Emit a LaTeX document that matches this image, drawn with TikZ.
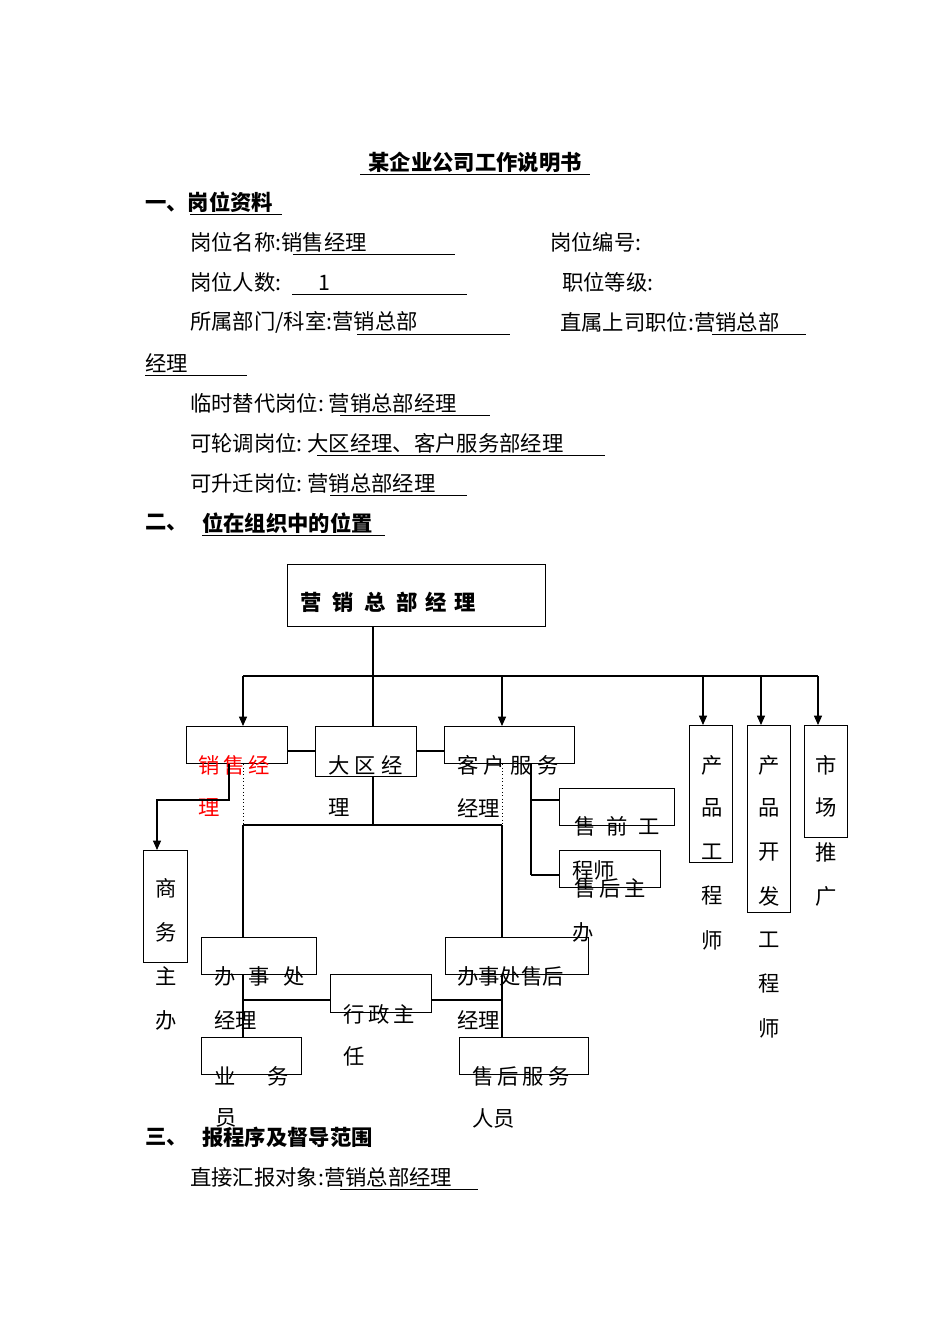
\documentclass[tikz,border=0pt]{standalone}
\usepackage{fontspec}
\setmainfont{Noto Sans CJK SC}
\usetikzlibrary{arrows.meta}
\begin{document}
\begin{tikzpicture}[x=0.75pt,y=-0.75pt,
 txt/.style={anchor=west,inner sep=0pt,font=\fontsize{16}{18}\selectfont},
 btxt/.style={txt,font=\fontsize{16}{18}\selectfont\bfseries},
 bx/.style={draw,line width=0.8pt,inner sep=0pt,anchor=north west},
 ln/.style={line width=0.8pt},
 ar/.style={ln,-{Triangle[length=7pt,width=6pt]}},
 ul/.style={line width=0.6pt}]
\useasboundingbox (0,0) rectangle (950,1344);
% header texts
\node[btxt,anchor=center] (title) at (475,162) {某企业公司工作说明书};
\draw[ul] (360,174)--(590,174);
\node[btxt] (h1) at (145,202) {一、岗位资料};
\draw[ul] (190,214)--(282,214);
\node[txt] (a1) at (190,242) {岗位名称:销售经理};
\draw[ul] (293,254)--(455,254);
\node[txt] (a2) at (550,242) {岗位编号:};
\node[txt] (b1) at (190,282) {岗位人数:\hspace{28pt}1};
\draw[ul] (292,294)--(467,294);
\node[txt] (b2) at (562,282) {职位等级:};
\node[txt] (c1) at (190,322) {所属部门/科室:营销总部};
\draw[ul] (357,334)--(510,334);
\node[txt] (c2) at (560,322) {直属上司职位:营销总部};
\draw[ul] (712,334)--(806,334);
\node[txt] (c3) at (145,363) {经理};
\draw[ul] (145,375)--(247,375);
\node[txt] (d1) at (190,403) {临时替代岗位:\ 营销总部经理};
\draw[ul] (340,415)--(490,415);
\node[txt] (e1) at (190,443) {可轮调岗位:\ 大区经理、客户服务部经理};
\draw[ul] (317,455)--(605,455);
\node[txt] (f1) at (190,483) {可升迁岗位:\ 营销总部经理};
\draw[ul] (330,495)--(467,495);
\node[btxt] (h2a) at (145,523) {二、};
\node[btxt] (h2b) at (202,523) {位在组织中的位置};
\draw[ul] (202,535)--(385,535);
\node[btxt] (h3a) at (145,1137) {三、};
\node[btxt] (h3b) at (202,1137) {报程序及督导范围};
\node[txt] (g1) at (190,1177) {直接汇报对象:营销总部经理};
\draw[ul] (340,1189)--(478,1189);
% boxes
\node[bx,minimum width={258*0.75pt},minimum height={62*0.75pt}] (top) at (287,564) {};
\node[btxt] (topt) at (300,602) {营\hspace{8pt}销\hspace{8pt}总\hspace{8pt}部\hspace{6pt}经\hspace{6pt}理};
\node[bx,minimum width={101*0.75pt},minimum height={37*0.75pt}] (xs) at (186,726) {};
\node[bx,minimum width={101*0.75pt},minimum height={50*0.75pt}] (dq) at (315,726) {};
\node[bx,minimum width={130*0.75pt},minimum height={37*0.75pt}] (kh) at (444,726) {};
\node[bx,minimum width={115*0.75pt},minimum height={37*0.75pt}] (sq) at (559,788) {};
\node[bx,minimum width={101*0.75pt},minimum height={37*0.75pt}] (sh) at (559,850) {};
\node[bx,minimum width={44*0.75pt},minimum height={112*0.75pt}] (sw) at (143,850) {};
\node[bx,minimum width={115*0.75pt},minimum height={37*0.75pt}] (bl) at (201,937) {};
\node[bx,minimum width={143*0.75pt},minimum height={37*0.75pt}] (br) at (445,937) {};
\node[bx,minimum width={101*0.75pt},minimum height={38*0.75pt}] (xz) at (330,974) {};
\node[bx,minimum width={100*0.75pt},minimum height={37*0.75pt}] (yw) at (201,1037) {};
\node[bx,minimum width={129*0.75pt},minimum height={37*0.75pt}] (shf) at (459,1037) {};
\node[bx,minimum width={43*0.75pt},minimum height={137*0.75pt}] (cp) at (689,725) {};
\node[bx,minimum width={43*0.75pt},minimum height={187*0.75pt}] (kf) at (747,725) {};
\node[bx,minimum width={43*0.75pt},minimum height={112*0.75pt}] (sc) at (804,725) {};
% box texts
\node[txt,text=red] (t1) at (198,765) {销\hspace{3pt}售\hspace{3pt}经};
\node[txt,text=red] (t1b) at (198,808) {理};
\node[txt] (t2) at (328,765) {大\hspace{4pt}区\hspace{4pt}经};
\node[txt] (t2b) at (328,808) {理};
\node[txt] (t3) at (457,765) {客\hspace{4pt}户\hspace{4pt}服\hspace{4pt}务};
\node[txt] (t3b) at (457,808) {经理};
\node[txt] (t4) at (574,826) {售\hspace{8pt}前\hspace{8pt}工};
\node[txt] (t4b) at (572,870) {程师};
\node[txt] (t5) at (574,888) {售\hspace{3pt}后\hspace{3pt}主};
\node[txt] (t5b) at (572,932) {办};
\foreach \c/\y in {商/888,务/932,主/976,办/1020}{\node[txt,anchor=center] at (166,\y) {\c};}
\node[txt] (t6) at (214,976) {办\hspace{10pt}事\hspace{10pt}处};
\node[txt] (t6b) at (214,1020) {经理};
\node[txt] (t7) at (457,976) {办事处售后};
\node[txt] (t7b) at (457,1020) {经理};
\node[txt] (t8) at (343,1014) {行\hspace{3pt}政\hspace{3pt}主};
\node[txt] (t8b) at (343,1056) {任};
\node[txt] (t9) at (214,1076) {业\hspace{24pt}务};
\node[txt] (t9b) at (215,1118) {员};
\node[txt] (t10) at (472,1076) {售\hspace{3pt}后\hspace{3pt}服\hspace{3pt}务};
\node[txt] (t10b) at (472,1118) {人员};
\foreach \c/\y in {产/765,品/808,工/852,程/896,师/940}{\node[txt,anchor=center] at (712,\y) {\c};}
\foreach \c/\y in {产/765,品/808,开/852,发/896,工/940,程/984,师/1028}{\node[txt,anchor=center] at (769,\y) {\c};}
\foreach \c/\y in {市/765,场/808,推/852,广/896}{\node[txt,anchor=center] at (826,\y) {\c};}
% connectors
\coordinate (j0) at (373,676);
\draw[ln] (top.south -| j0) -- (dq.north -| j0);
\draw[ln] (243,676) -- (818,676);
\draw[ar] (243,676) -- (xs.north -| 243,0);
\draw[ar] (502,676) -- (kh.north -| 502,0);
\draw[ar] (703,676) -- (cp.north -| 703,0);
\draw[ar] (761,676) -- (kf.north -| 761,0);
\draw[ar] (818,676) -- (sc.north -| 818,0);
\draw[ln] (xs.east |- 0,751) -- (dq.west |- 0,751);
\draw[ln] (dq.east |- 0,751) -- (kh.west |- 0,751);
\draw[ln] (dq.south -| j0) -- (373,825);
\draw[ln] (243,825) -- (502,825);
\draw[line width=0.6pt,dotted] (xs.south -| 243,0) -- (243,825);
\draw[line width=0.6pt,dotted] (kh.south -| 502,0) -- (502,825);
\draw[ln] (243,825) -- (bl.north -| 243,0);
\draw[ln] (502,825) -- (br.north -| 502,0);
\draw[ar] (xs.south -| 229,0) -- (229,800) -- (157,800) -- (sw.north -| 157,0);
\draw[ln] (kh.south -| 531,0) -- (531,875);
\draw[ln] (531,800) -- (sq.west |- 0,800);
\draw[ln] (531,875) -- (sh.west |- 0,875);
\draw[ln] (bl.south -| 243,0) -- (yw.north -| 243,0);
\draw[ln] (br.south -| 502,0) -- (shf.north -| 502,0);
\draw[ln] (243,1000) -- (xz.west |- 0,1000);
\draw[ln] (xz.east |- 0,1000) -- (502,1000);
\end{tikzpicture}
\end{document}
